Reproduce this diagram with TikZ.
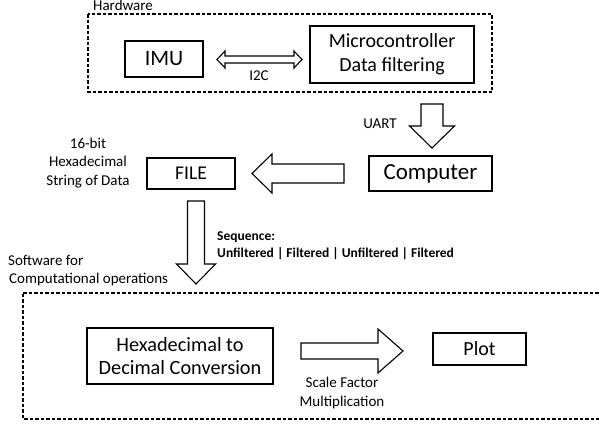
\documentclass[tikz,border=0pt]{standalone}
\usepackage{fontspec}
\setmainfont{Carlito}
\usetikzlibrary{calc}
\begin{document}
\begin{tikzpicture}[x=1pt,y=-1pt,
  box/.style={draw,line width=1.1pt,inner sep=0pt,align=center},
  group/.style={draw,dashed,line width=1.1pt,dash pattern=on 3.5pt off 2pt},
  barrow/.style={draw,line width=1.1pt,line join=miter,fill=white},
  lbl/.style={font=\fontsize{15}{18.5}\selectfont,inner sep=0pt,align=center}]
\useasboundingbox (0,0) rectangle (599,423);
% groups
\draw[group] (88,14) rectangle (492,92);
\node[lbl,anchor=base west] (hwl) at (93,10) {Hardware};
\draw[group] (23,293) -- (605,293) (605,419) -- (23,419) -- (23,293);
\node[lbl,anchor=base west] (swl) at (8,265) {Software for};
\node[lbl,anchor=base west] (swl2) at (9,283) {Computational operations};
% boxes
\node[box,minimum width=78pt,minimum height=36pt,font=\fontsize{22}{26}\selectfont] (imu) at (164,59) {IMU};
\node[box,minimum width=164pt,minimum height=57pt,font=\fontsize{20}{24}\selectfont] (mcu) at (392,54.5) {Microcontroller\\Data filtering};
\node[box,minimum width=123pt,minimum height=35pt,font=\fontsize{23}{27}\selectfont] (comp) at (430.5,173.5) {Computer};
\node[box,minimum width=88pt,minimum height=31pt,font=\fontsize{19.5}{23}\selectfont] (file) at (191,173.5) {FILE};
\node[box,minimum width=186pt,minimum height=56pt,font=\fontsize{20.3}{23.5}\selectfont] (hex) at (180,356) {Hexadecimal to\\Decimal Conversion};
\node[box,minimum width=93pt,minimum height=32pt,font=\fontsize{20}{24}\selectfont] (plot) at (479.5,349) {Plot};
% labels
\node[lbl,anchor=base] (i2c) at (259,80) {I2C};
\node[lbl,anchor=base] (uart) at (380,128) {UART};
\node[lbl,anchor=base] (b1) at (88,148) {16-bit};
\node[lbl,anchor=base] (b2) at (88,166.5) {Hexadecimal};
\node[lbl,anchor=base] (b3) at (88,185) {String of Data};
\node[lbl,anchor=base west,font=\fontsize{13.5}{16}\selectfont\bfseries] (seq1) at (217,240) {Sequence:};
\node[lbl,anchor=base west,font=\fontsize{13.5}{16}\selectfont\bfseries] (seq2) at (217,257) {Unfiltered | Filtered | Unfiltered | Filtered};
\node[lbl,anchor=base] (sf1) at (342,387) {Scale Factor};
\node[lbl,anchor=base] (sf2) at (342,406) {Multiplication};
% block arrows
% double arrow IMU <-> MCU
\coordinate (dL) at (217,59.5);
\coordinate (dR) at (302,59.5);
\draw[barrow] (dL) -- ++(8,-8.5) -- ++(0,5) -- ($(dR)+(-8,-3.5)$) -- ++(0,-5) -- (dR) -- ++(-8,8.5) -- ++(0,-5) -- ($(dL)+(8,3.5)$) -- ++(0,5) -- cycle;
% UART down arrow
\coordinate (uT) at (432,104);
\coordinate (uB) at (432,148);
\draw[barrow] ($(uT)+(-11,0)$) -- ($(uT)+(11,0)$) -- ($(uB)+(11,-22)$) -- ($(uB)+(22.5,-22)$) -- (uB) -- ($(uB)+(-22.5,-22)$) -- ($(uB)+(-11,-22)$) -- cycle;
% Computer -> FILE arrow
\coordinate (lR) at (344,173.5);
\coordinate (lL) at (252,173.5);
\draw[barrow] ($(lR)+(0,-9.5)$) -- ($(lL)+(20,-9.5)$) -- ($(lL)+(20,-19.5)$) -- (lL) -- ($(lL)+(20,19.5)$) -- ($(lL)+(20,9.5)$) -- ($(lR)+(0,9.5)$) -- cycle;
% FILE -> software down arrow
\coordinate (fT) at (196,201);
\coordinate (fB) at (196,284);
\draw[barrow] ($(fT)+(-8.5,0)$) -- ($(fT)+(8.5,0)$) -- ($(fB)+(8.5,-20)$) -- ($(fB)+(19.5,-20)$) -- (fB) -- ($(fB)+(-19.5,-20)$) -- ($(fB)+(-8.5,-20)$) -- cycle;
% Hex -> Plot arrow
\coordinate (sL) at (301,351);
\coordinate (sR) at (403,351);
\draw[barrow] ($(sL)+(0,-8)$) -- ($(sR)+(-25,-8)$) -- ($(sR)+(-25,-22)$) -- (sR) -- ($(sR)+(-25,22)$) -- ($(sR)+(-25,8)$) -- ($(sL)+(0,8)$) -- cycle;
\end{tikzpicture}
\end{document}
